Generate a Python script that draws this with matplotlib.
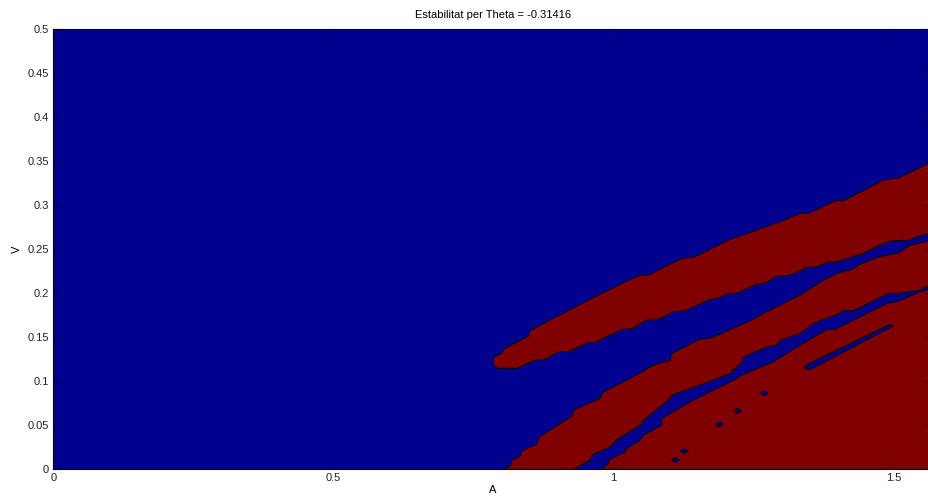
import numpy as np
import matplotlib
matplotlib.use('Agg')
import matplotlib.pyplot as plt

theta = -0.31416
a_max = np.pi / 2

# regio inestable superior
band1_top_A = [0.7857, 0.8007, 0.8036, 0.8482, 0.8512, 0.8750, 0.9554, 1.0298, 1.0477, 1.0625, 1.1221,
               1.1429, 1.2054, 1.2977, 1.3334, 1.3482, 1.3959, 1.4107, 1.4821, 1.5084, 1.5708]
band1_top_V = [0.1273, 0.1318, 0.1367, 0.1515, 0.1575, 0.1659, 0.1924, 0.2159, 0.2208, 0.2208, 0.2398,
               0.2409, 0.2606, 0.2814, 0.2909, 0.2909, 0.3052, 0.3052, 0.3288, 0.3310, 0.3503]
band1_bot_A = [0.7857, 0.7918, 0.8275, 0.8602, 0.8750, 0.9018, 0.9196, 0.9554, 0.9673, 1.0150, 1.0316,
               1.0596, 1.0775, 1.1071, 1.1280, 1.1696, 1.1905, 1.2054, 1.2204, 1.2561, 1.2709, 1.2888,
               1.3155, 1.3454, 1.3632, 1.3811, 1.3989, 1.4464, 1.4763, 1.4941, 1.5239, 1.5446, 1.5708]
band1_bot_V = [0.1185, 0.1148, 0.1148, 0.1242, 0.1242, 0.1336, 0.1336, 0.1443, 0.1443, 0.1591, 0.1594,
               0.1697, 0.1697, 0.1791, 0.1802, 0.1924, 0.1955, 0.2000, 0.2000, 0.2106, 0.2114, 0.2189,
               0.2208, 0.2295, 0.2302, 0.2352, 0.2359, 0.2455, 0.2549, 0.2594, 0.2598, 0.2651, 0.2697]

# segona regio inestable
band2_top_A = [0.8036, 0.8155, 0.8186, 0.8334, 0.8364, 0.8632, 0.8661, 0.9257, 0.9286, 0.9763, 0.9793,
               1.0239, 1.0477, 1.0714, 1.1013, 1.1043, 1.1548, 1.1727, 1.2263, 1.2471, 1.2679, 1.2798,
               1.3334, 1.3691, 1.3959, 1.4262, 1.4405, 1.4727, 1.5084, 1.5298, 1.5708]
band2_top_V = [0.0000, 0.0038, 0.0106, 0.0151, 0.0211, 0.0288, 0.0364, 0.0606, 0.0674, 0.0807, 0.0870,
               0.1015, 0.1098, 0.1185, 0.1242, 0.1318, 0.1481, 0.1489, 0.1640, 0.1697, 0.1773, 0.1810,
               0.1981, 0.2128, 0.2219, 0.2276, 0.2333, 0.2413, 0.2458, 0.2549, 0.2606]
band2_bot_A = [0.9286, 0.9582, 0.9614, 0.9941, 1.0061, 1.0477, 1.0536, 1.1013, 1.1043, 1.1548, 1.2084,
               1.2293, 1.2321, 1.2739, 1.2918, 1.2977, 1.3334, 1.3571, 1.3959, 1.4107, 1.4286, 1.4763,
               1.4911, 1.5089, 1.5477, 1.5708]
band2_bot_V = [0.0000, 0.0106, 0.0163, 0.0257, 0.0341, 0.0503, 0.0560, 0.0807, 0.0844, 0.0958, 0.1091,
               0.1223, 0.1280, 0.1393, 0.1413, 0.1469, 0.1545, 0.1659, 0.1753, 0.1802, 0.1802, 0.1955,
               0.2000, 0.2000, 0.2038, 0.2117]

# regio inestable inferior (fins a la cantonada)
band3_top_A = [0.9793, 0.9911, 0.9911, 1.0209, 1.0239, 1.0477, 1.0536, 1.0864, 1.0864, 1.1370, 1.1607,
               1.2143, 1.2293, 1.2709, 1.2857, 1.3334, 1.3811, 1.3959, 1.4405, 1.4882, 1.5061, 1.5477,
               1.5708]
band3_top_V = [0.0000, 0.0068, 0.0106, 0.0200, 0.0239, 0.0333, 0.0390, 0.0503, 0.0580, 0.0768, 0.0844,
               0.1015, 0.1072, 0.1185, 0.1223, 0.1413, 0.1591, 0.1591, 0.1734, 0.1886, 0.1905, 0.2018,
               0.2060]

# forats estables dins la regio inferior
stripe_A = [1.3400, 1.3446, 1.4940, 1.4995, 1.3495]
stripe_V = [0.1157, 0.1188, 0.1650, 0.1630, 0.1128]
hole_A = [1.2691, 1.2214, 1.1888, 1.1263, 1.1102]
hole_V = [0.0864, 0.0663, 0.0511, 0.0208, 0.0106]

blue = (0, 0, 0.5625)
red = (0.5, 0, 0)

plt.rcParams['font.family'] = ['Liberation Sans', 'DejaVu Sans']
plt.rcParams['font.size'] = 8

fig = plt.figure(figsize=(9.29, 4.98), dpi=100)
ax = fig.add_axes([0.0574, 0.0576, 0.9469, 0.8836])
ax.set_facecolor(blue)


def region(xs, ys, color):
    ax.fill(xs, ys, facecolor=color, edgecolor='black', linewidth=0.7)


region(band1_top_A + band1_bot_A[::-1], band1_top_V + band1_bot_V[::-1], red)
region(band2_top_A + band2_bot_A[::-1], band2_top_V + band2_bot_V[::-1], red)
region(band3_top_A + [a_max], band3_top_V + [0.0], red)
region(stripe_A, stripe_V, blue)

da, dv = 0.0072, 0.0028
for a, v in zip(hole_A, hole_V):
    region([a - da, a, a + da, a], [v, v + dv, v, v - dv], blue)

ax.set_xlim(0, a_max)
ax.set_ylim(0, 0.5)
ax.set_xticks([0, 0.5, 1, 1.5])
ax.set_xticklabels(['0', '0.5', '1', '1.5'])
ax.set_yticks(np.arange(0, 0.51, 0.05))
ax.set_yticklabels(['0', '0.05', '0.1', '0.15', '0.2', '0.25', '0.3', '0.35', '0.4', '0.45', '0.5'])
ax.tick_params(direction='in', length=6, width=0.8, top=True, right=True, colors='black',
               labelcolor='#222222', pad=3)
for s in ax.spines.values():
    s.set_linewidth(0.8)

ax.set_title('Estabilitat per Theta = {}'.format(theta), fontsize=8, pad=8)
ax.set_xlabel('A', labelpad=1)
ax.set_ylabel('V', labelpad=4)

fig.savefig('out.png', dpi=100)
